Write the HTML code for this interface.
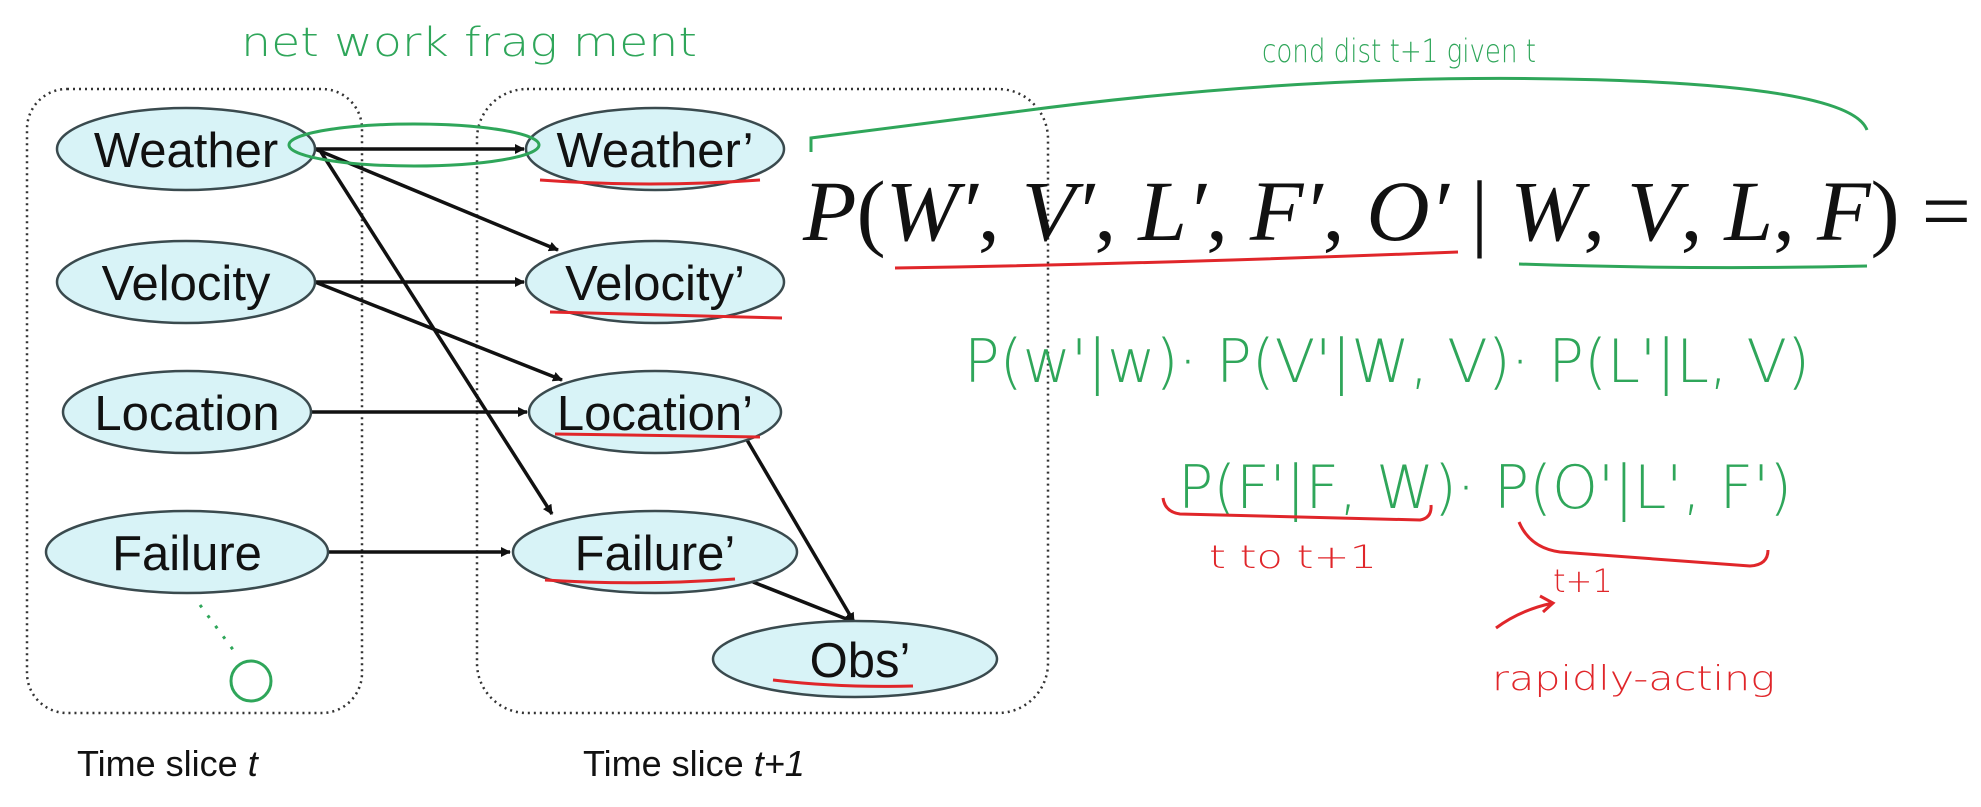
<!DOCTYPE html>
<html><head><meta charset="utf-8"><style>
html,body{margin:0;padding:0;background:#fff;width:1981px;height:807px;overflow:hidden}
svg{display:block}
.node{fill:#d8f3f7;stroke:#3a4a4e;stroke-width:2.5}
.nt{font-family:"Liberation Sans",sans-serif;font-size:49px;fill:#111;text-anchor:middle;dominant-baseline:central}
.ar{stroke:#111;stroke-width:3.5;fill:none;marker-end:url(#ah)}
.g{fill:none;stroke:#2fa65a;stroke-width:3}
.r{fill:none;stroke:#e0262a;stroke-width:3}
.gt{font-family:"DejaVu Sans",sans-serif;fill:#2fa65a;font-weight:300}
.rt{font-family:"DejaVu Sans",sans-serif;fill:#e0262a;font-weight:300}
</style></head><body>
<svg width="1981" height="807" viewBox="0 0 1981 807">
<defs><marker id="ah" markerWidth="10" markerHeight="10" refX="9" refY="5" orient="auto" markerUnits="userSpaceOnUse" viewBox="0 0 10 10"><path d="M0,0 L10,5 L0,10 z" fill="#111"/></marker></defs>
<rect x="27" y="89" width="335" height="624" rx="40" fill="none" stroke="#333" stroke-width="2.5" stroke-dasharray="2,4"/>
<rect x="477" y="89" width="571" height="624" rx="50" fill="none" stroke="#333" stroke-width="2.5" stroke-dasharray="2,4"/>
<g>
<line class="ar" x1="315" y1="149" x2="524" y2="149"/>
<line class="ar" x1="315" y1="149" x2="558" y2="250"/>
<line class="ar" x1="321" y1="152" x2="552" y2="514"/>
<line class="ar" x1="315" y1="282" x2="524" y2="282"/>
<line class="ar" x1="315" y1="282" x2="562" y2="380"/>
<line class="ar" x1="311" y1="412" x2="527" y2="412"/>
<line class="ar" x1="328" y1="552" x2="510" y2="552"/>
<line class="ar" x1="747" y1="440" x2="854" y2="622"/>
<line class="ar" x1="753" y1="582" x2="854" y2="622"/>
</g>
<g><ellipse class="node" cx="186" cy="149" rx="129" ry="41"/><text class="nt" x="186" y="151">Weather</text></g>
<g><ellipse class="node" cx="186" cy="282" rx="129" ry="41"/><text class="nt" x="186" y="284">Velocity</text></g>
<g><ellipse class="node" cx="187" cy="412" rx="124" ry="41"/><text class="nt" x="187" y="414">Location</text></g>
<g><ellipse class="node" cx="187" cy="552" rx="141" ry="41"/><text class="nt" x="187" y="554">Failure</text></g>
<g><ellipse class="node" cx="655" cy="149" rx="129" ry="41"/><text class="nt" x="655" y="151">Weather’</text></g>
<g><ellipse class="node" cx="655" cy="282" rx="129" ry="41"/><text class="nt" x="655" y="284">Velocity’</text></g>
<g><ellipse class="node" cx="655" cy="412" rx="126" ry="41"/><text class="nt" x="655" y="414">Location’</text></g>
<g><ellipse class="node" cx="655" cy="552" rx="142" ry="41"/><text class="nt" x="655" y="554">Failure’</text></g>
<g><ellipse class="node" cx="855" cy="659" rx="142" ry="38"/><text class="nt" x="860" y="661">Obs’</text></g>
<text x="77" y="776" font-family="Liberation Sans,sans-serif" font-size="36" fill="#111">Time slice <tspan font-style="italic">t</tspan></text>
<text x="583" y="776" font-family="Liberation Sans,sans-serif" font-size="36" fill="#111">Time slice <tspan font-style="italic">t+1</tspan></text>
<g>
<path class="r" d="M540,180 Q650,188 760,180"/>
<path class="r" d="M550,312 L782,318"/>
<path class="r" d="M555,434 L760,437"/>
<path class="r" d="M545,580 Q640,586 735,579" stroke-width="5"/>
<path class="r" d="M773,680 Q840,688 913,686" stroke-width="5"/>
</g>
<g>
<text class="gt" x="241" y="56" font-size="40" textLength="456" lengthAdjust="spacingAndGlyphs">net work frag ment</text>
<ellipse class="g" cx="414" cy="145" rx="125" ry="21"/>
<path class="g" d="M200,605 L234,651" stroke-dasharray="3,10"/>
<circle class="g" cx="251" cy="681" r="20"/>
<path class="g" d="M811,152 L811,138 Q900,127 1014,112 Q1300,74 1561,79 Q1850,84 1867,130"/>
<text class="gt" x="1262" y="62" font-size="32" textLength="274" lengthAdjust="spacingAndGlyphs">cond dist t+1 given t</text>
<path class="g" d="M1519,264 Q1700,270 1867,266"/>
<text class="gt" x="964" y="382" font-size="60" textLength="846" lengthAdjust="spacingAndGlyphs">P(w'|w)· P(V'|W, V)· P(L'|L, V)</text>
<text class="gt" x="1178" y="508" font-size="60" textLength="614" lengthAdjust="spacingAndGlyphs">P(F'|F, W)· P(O'|L', F')</text>
</g>
<text x="803" y="240" font-family="Liberation Serif,serif" font-size="86" fill="#111" textLength="1168" lengthAdjust="spacingAndGlyphs"><tspan font-style="italic">P</tspan>(<tspan font-style="italic">W′</tspan>, <tspan font-style="italic">V′</tspan>, <tspan font-style="italic">L′</tspan>, <tspan font-style="italic">F′</tspan>, <tspan font-style="italic">O′</tspan> | <tspan font-style="italic">W</tspan>, <tspan font-style="italic">V</tspan>, <tspan font-style="italic">L</tspan>, <tspan font-style="italic">F</tspan>) =</text>
<g>
<path class="r" d="M895,268 Q1150,264 1458,252"/>
<path class="r" d="M1163,498 Q1165,512 1180,514 L1420,520 Q1432,518 1431,505"/>
<path class="r" d="M1519,522 Q1530,548 1560,552 L1750,566 Q1768,565 1768,550"/>
<text class="rt" x="1209" y="568" font-size="32" textLength="168" lengthAdjust="spacingAndGlyphs">t to t+1</text>
<text class="rt" x="1553" y="592" font-size="32">t+1</text>
<path class="r" d="M1496,628 Q1520,610 1553,603 M1540,596 L1553,603 L1543,612"/>
<text class="rt" x="1492" y="690" font-size="34" textLength="283" lengthAdjust="spacingAndGlyphs">rapidly-acting</text>
</g>
</svg>
</body></html>
